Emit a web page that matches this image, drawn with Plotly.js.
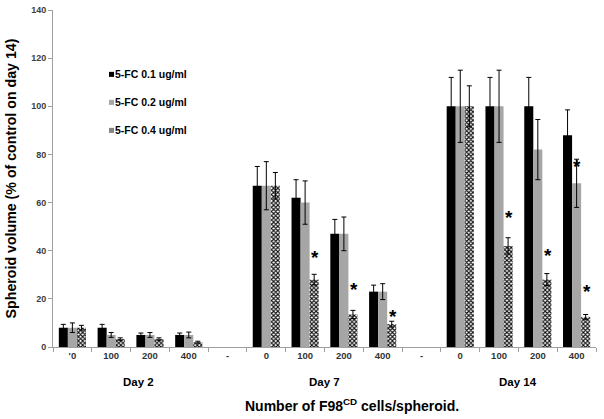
<!DOCTYPE html>
<html>
<head>
<meta charset="utf-8">
<script src="https://cdn.plot.ly/plotly-3.0.1.min.js"></script>
<style>html,body{margin:0;padding:0;background:#fff;}#chart{width:604px;height:419px;}</style>
</head>
<body>
<div id="chart"></div>
<script>
// Category tick labels (14 slots, "-" = separators between days)
const categories = ["'0","100","200","400","-","0","100","200","400","-","0","100","200","400"];
const dayLabels = ["Day 2","Day 7","Day 14"];
const dayCenters = [1.7, 6.5, 11.5];

const seriesNames = ["5-FC 0.1 ug/ml","5-FC 0.2 ug/ml","5-FC 0.4 ug/ml"];
const fc01 = [8, 8, 5, 5, null, 67, 62, 47, 23, null, 100, 100, 100, 88];
const fc01Err = [1.4, 1.4, 0.8, 0.8, null, 8, 7.5, 6, 2.7, null, 12, 12, 12, 10.5];
const fc02 = [8, 5, 5, 5, null, 67, 60, 47, 23, null, 100, 100, 82, 68];
const fc02Err = [2, 1, 1, 1.2, null, 10, 9, 7, 3.3, null, 15, 15, 12.5, 10];
const fc04 = [8, 3.3, 3.3, 2, null, 67, 28, 13.5, 9.5, null, 100, 42, 28, 12.5];
const fc04Err = [1, 0.5, 0.5, 0.4, null, 5.5, 2.2, 1.7, 1.2, null, 8.5, 3.4, 2.5, 1];

// Significance asterisks: [category index, series offset, y value]
const starCat = [6, 7, 8, 11, 12, 13, 13];
const starSeries = [2, 2, 2, 2, 2, 1, 2];
const starY = [37, 24, 12.5, 54, 38, 75, 23];

const xIdx = categories.map((c, i) => i);
const barW = 0.235;
const FONT = 'Arial, Liberation Sans, sans-serif';

const errStyle = (arr) => ({type: 'data', array: arr, visible: true, color: '#000', thickness: 1, width: 2.5});

const traces = [
  {type: 'bar', name: seriesNames[0], legendgroup: 'a', x: xIdx, y: fc01, error_y: errStyle(fc01Err),
   marker: {color: '#000000', line: {width: 0}}},
  {type: 'bar', name: seriesNames[1], legendgroup: 'b', x: xIdx, y: fc02, error_y: errStyle(fc02Err),
   marker: {color: '#a6a6a6', line: {width: 0}}},
  {type: 'bar', name: seriesNames[2], legendgroup: 'c', x: xIdx, y: fc04, error_y: errStyle(fc04Err),
   marker: {color: '#ffffff', line: {width: 0},
            pattern: {shape: 'x', fgcolor: '#111111', bgcolor: '#ffffff', size: 3, solidity: 0.6, fillmode: 'replace'}}}
];

const annotations = [];
for (let i = 0; i < starCat.length; i++) {
  annotations.push({x: starCat[i] + (starSeries[i] - 1) * barW + 0.02, y: starY[i], xref: 'x', yref: 'y',
    text: '<b>*</b>', showarrow: false, font: {family: FONT, size: 19, color: '#000'}, yanchor: 'middle'});
}
for (let i = 0; i < dayLabels.length; i++) {
  annotations.push({x: dayCenters[i], y: 0, xref: 'x', yref: 'paper', yshift: -27,
    text: '<b>' + dayLabels[i] + '</b>', showarrow: false, yanchor: 'top',
    font: {family: FONT, size: 11.5, color: '#000'}});
}
annotations.push({x: 0.551, y: 0, xref: 'paper', yref: 'paper', yshift: -58, yanchor: 'middle',
  text: '<b>Number of F98<sup>CD</sup> cells/spheroid.</b>', showarrow: false,
  font: {family: FONT, size: 14, color: '#000'}});

const layout = {
  width: 604, height: 419,
  margin: {l: 53, r: 8, t: 10, b: 72},
  paper_bgcolor: '#fff', plot_bgcolor: '#fff',
  font: {family: FONT, color: '#000'},
  barmode: 'group', bargap: 0.3, bargroupgap: 0,
  showlegend: true,
  legend: {x: 0.0405, y: 0.852, xanchor: 'left', yanchor: 'top', bgcolor: 'rgba(0,0,0,0)',
    font: {size: 10.5, family: FONT, weight: 'bold', color: '#000'}, tracegroupgap: 9, traceorder: 'grouped',
    itemwidth: 30},
  xaxis: {
    range: [-0.5, 13.5], showgrid: false, zeroline: false,
    showline: true, linecolor: '#a0a0a0', linewidth: 1,
    tickmode: 'array', tickvals: xIdx, ticktext: categories, ticks: '',
    tickfont: {size: 9.5, color: '#333', weight: 'bold'},
    minor: {tick0: -0.5, dtick: 1, ticks: 'outside', ticklen: 4, tickcolor: '#a0a0a0', showgrid: false},
    fixedrange: true
  },
  yaxis: {
    range: [0, 140], dtick: 20, showgrid: false, zeroline: false,
    showline: true, linecolor: '#a0a0a0', linewidth: 1,
    ticks: 'outside', ticklen: 4, tickcolor: '#a0a0a0',
    tickfont: {size: 9, color: '#404040', weight: 'bold'},
    title: {text: '<b>Spheroid volume (% of control on day 14)</b>', font: {size: 14.2, color: '#000'}, standoff: 11}
  },
  annotations: annotations
};

Plotly.newPlot('chart', traces, layout, {staticPlot: true}).then(function (gd) {
  // shrink legend swatches to small squares next to the text, as in the reference
  gd.querySelectorAll('.legend .traces').forEach(function (t) {
    var pts = t.querySelector('.legendpoints');
    if (pts) {
      pts.setAttribute('transform', 'translate(36.5,0)');
      pts.querySelectorAll('path').forEach(function (p) {
        p.setAttribute('transform', 'scale(0.42)');
      });
    }
  });
});
</script>
</body>
</html>
